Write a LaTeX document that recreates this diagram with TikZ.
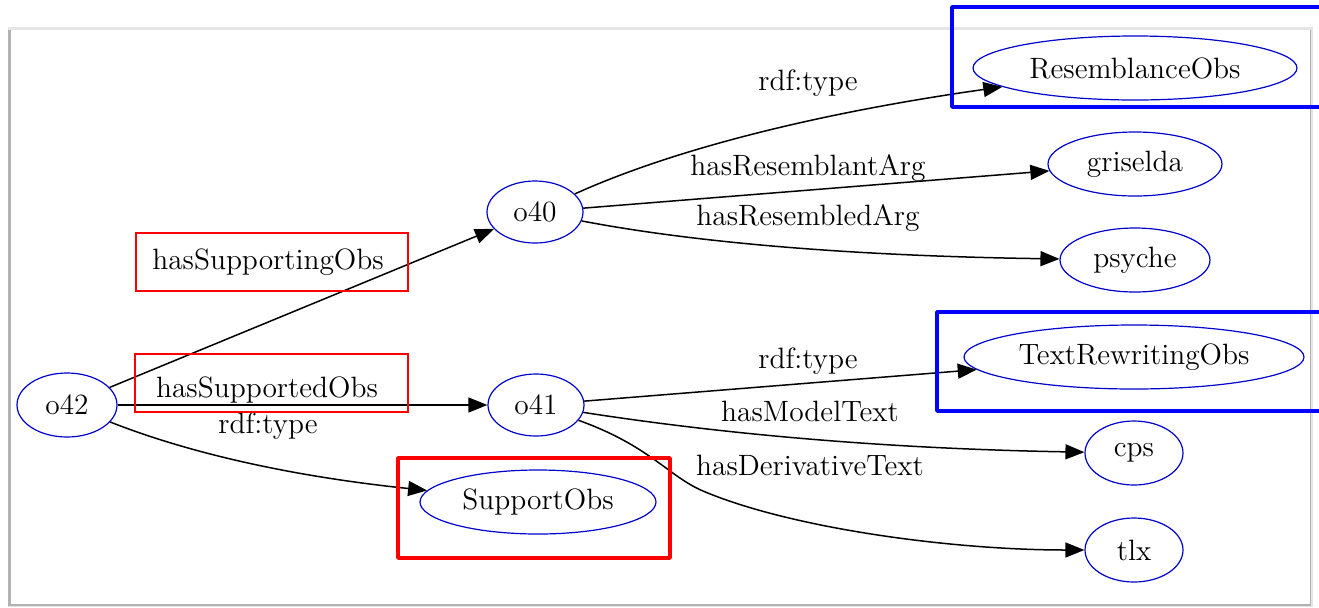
\documentclass[tikz,border=0pt]{standalone}
\usepackage{tikz}
\usetikzlibrary{arrows.meta}
\usetikzlibrary{shapes}
\tikzset{
        graphnode/.style={align=center,inner sep=0pt},
        % Instance and class nodes
        node_obs/.style={graphnode, ellipse, draw=blue!80!black, line width=0.6pt, fill=white, minimum width=48pt, minimum height=31pt},
        % Edge labels
        node_label/.style={graphnode, text=black},
        % Red frames round labels
        box_label/.style={draw=red, line width=0.8pt},
        % Thick frames round classes
        box_class/.style={line width=1.9pt, line join=round}
}

\begin{document}
\begin{tikzpicture}[
            ->, >={Triangle[length=9.5pt, width=7.5pt]},
            x=0.5pt, y=-0.5pt,
            every node/.style={font=\fontsize{14.7}{17}\selectfont},
            edge/.style={black, line width=0.75pt}
        ]
            \useasboundingbox (0,0) rectangle (1319,607);
            % panel
            \fill[-, black!10] (8,27) rectangle (1313,607);
            \fill[-, black!30] (8,30) rectangle (1311,606);
            \fill[-, white] (11,30) rectangle (1310,604);

            \node[node_obs, minimum width=50pt, minimum height=32pt] (o42) at (67,405) {o42};
            \node[node_obs] (o40) at (535,212) {o40};
            \node[node_obs] (o41) at (536,405) {o41};
            \node[node_obs, minimum width=118pt, minimum height=32pt] (support) at (538,502) {SupportObs};
            \node[node_obs, minimum width=162pt, minimum height=32pt] (resemblance) at (1135,68) {ResemblanceObs};
            \node[node_obs, minimum width=87pt, minimum height=32pt] (griselda) at (1135,164) {griselda};
            \node[node_obs, minimum width=75pt, minimum height=32pt] (psyche) at (1135,260) {psyche};
            \node[node_obs, minimum width=170pt, minimum height=32pt] (rewriting) at (1134,357) {TextRewritingObs};
            \node[node_obs, minimum width=49pt, minimum height=32pt] (cps) at (1134,453) {cps};
            \node[node_obs, minimum width=49pt, minimum height=32pt] (tlx) at (1134,550) {tlx};

            % edges
            \draw[edge] (o42) -- (o40);
            \draw[edge] (o42) -- (o41);
            \draw[edge] (o42) .. controls (194,455) and (298,477) .. (support);
            \draw[edge] (o40) .. controls (665,153) and (804,115) .. (resemblance);
            \draw[edge] (o40) -- (griselda);
            \draw[edge] (o40) .. controls (697,243) and (855,256) .. (psyche);
            \draw[edge] (o41) -- (rewriting);
            \draw[edge] (o41) .. controls (735,436) and (901,449) .. (cps);
            \draw[edge] (o41) .. controls (650,446) and (668,476) .. (703,491)
                .. controls (790,528) and (950,550) .. (tlx);

            % labels
            \node[node_label] (l_supporting) at (268,262) {hasSupportingObs};
            \node[node_label] (l_supported) at (267,390) {hasSupportedObs};
            \node[node_label] (l_type42) at (268,426) {rdf:type};
            \node[node_label] (l_type40) at (808,83) {rdf:type};
            \node[node_label] (l_resemblant) at (808,168) {hasResemblantArg};
            \node[node_label] (l_resembled) at (808,218) {hasResembledArg};
            \node[node_label] (l_type41) at (808,361) {rdf:type};
            \node[node_label] (l_model) at (810,411) {hasModelText};
            \node[node_label] (l_derivative) at (810,465) {hasDerivativeText};

            % frames
            \draw[-, box_label] (136,233) rectangle (408,291);
            \draw[-, box_label] (135,354) rectangle (408,412);
            \draw[-, box_class, red] (398,458) rectangle (670,558);
            \draw[-, box_class, blue] (952,7) rectangle (1325,107);
            \draw[-, box_class, blue] (937,312) rectangle (1325,411);
        \end{tikzpicture}
\end{document}
